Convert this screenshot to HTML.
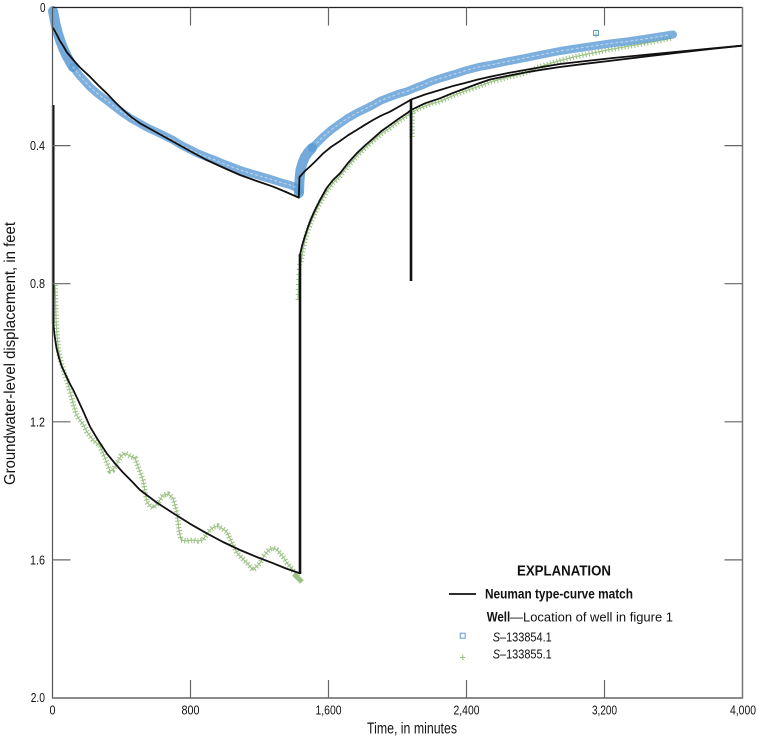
<!DOCTYPE html>
<html>
<head>
<meta charset="utf-8">
<style>
html,body{margin:0;padding:0;background:#fff;}
svg{display:block;}
text{font-family:"Liberation Sans Narrow","Liberation Sans",sans-serif;fill:#111;}
</style>
</head>
<body>
<svg width="757" height="746" viewBox="0 0 757 746" xmlns="http://www.w3.org/2000/svg">
<rect width="757" height="746" fill="#fff"/>
<!-- green data -->
<g fill="none" stroke="#9cc385" stroke-linejoin="round">
<g id="gd">
<polyline points="55,285 55.5,300 56,320 57,335 58.5,350 61,362 64,372 67.5,382 71,395 73,403 76,414 79,419 83,424 87,432 93,440 100,446 105,458 110,471 113,470 117,463 121,456 125,453 130,456 135,458 140,472 143,480 147,502 150,506 153,508 158,503 163,495 168,494 173,498 177,513 179,530 181,540 187,541 193,540 198,541 203,540 206,535 210,530 214,527 218,526 223,529 227,532 232,543 237,553 242,558 247,563 253,570 257,566 260,563 264,556 267,552 270,549 273,548 277,550 280,553 284,558 287,563 292,569 297,575 299,579"/>
<polyline points="301,262 303,250 305,240 308,230 311,222 315,213 320,203 327,191 333,183 340,176 348,166 356.7,156 365,148 373,141 381,134 390,128 399,121 408,115 411,113 418,109 425,106 432,103.5 440,101.5 452,96 465,91 477,87 490,82 507,77.5 525,73 542,66 560,60.5 576,56.5 593,53 610,49.5 627,46.5 644,43.5 660,40.5 672,38"/>
<polyline points="412,113 412,137"/>
</g>
<use href="#gd" stroke-width="1"/>
<use href="#gd" stroke-width="5.5" stroke-dasharray="1.1 2.2"/>
<polyline points="298,300 299,270 300,262" stroke-width="5" stroke-dasharray="1 4"/>
<polyline points="298,300 299,270 300,262" stroke-width="1"/>
<polyline points="294,574 302,582" stroke-width="5"/>
<path d="M593.4,35h5.2M596,32.4v5.2" stroke-width="1"/>
</g>
<!-- blue data -->
<g fill="none" stroke="#5b9bd5" stroke-linejoin="round" stroke-linecap="round">
<polyline points="53,11 54,16 55.5,24 57.5,32 60,40 63,48 66.7,56 70,62 73,67" stroke-width="10" opacity="0.85"/>
<polyline points="73,67 80,76 90,87 98,94 106.7,100.5 115,107 123,113 131,118.5 140,123.5 148,128 156.7,132 165,136 173,140 181,145 190,149.5 198,153.5 206.7,157 215,160 223,163.5 231,166.5 240,170 248,172.5 256.7,175 265,177.5 273.3,180 281,182.5 290,185 295,187 298,189 299,191" stroke-width="8" opacity="0.8"/>
<polyline points="299,193 299.5,180 300.5,170 302.5,163 305,157 308,152.5 312,148" stroke-width="10" opacity="0.85"/>
<polyline points="312,148 317,143 323,137 331,130 340,123.5 348,118 356.7,113 365,109 373,105 381,100.5 390,97 398,94 406.7,91.5 415,88 423,85 431,81.5 440,78.5 448,76 457,73.3 465,70.7 473,68.5 481,66.5 490,65 507,61.5 525,58 542,54.5 560,51 576,48.5 593,46 610,43.5 627,41.5 644,39 660,36.5 673,34.5" stroke-width="8" opacity="0.8"/>
<g stroke="#fff" stroke-width="1.2" stroke-dasharray="2 3" opacity="0.45">
<polyline points="73,67 80,76 90,87 98,94 106.7,100.5 115,107 123,113 131,118.5 140,123.5 148,128 156.7,132 165,136 173,140 181,145 190,149.5 198,153.5 206.7,157 215,160 223,163.5 231,166.5 240,170 248,172.5 256.7,175 265,177.5 273.3,180 281,182.5 290,185 295,187"/>
<polyline points="317,143 323,137 331,130 340,123.5 348,118 356.7,113 365,109 373,105 381,100.5 390,97 398,94 406.7,91.5 415,88 423,85 431,81.5 440,78.5 448,76 457,73.3 465,70.7 473,68.5 481,66.5 490,65 507,61.5 525,58 542,54.5 560,51 576,48.5 593,46 610,43.5 627,41.5 644,39 660,36.5 670,35"/>
</g>
<rect x="593.5" y="30.5" width="5" height="5" stroke-width="1"/>
</g>
<!-- model curves -->
<g fill="none" stroke="#111" stroke-width="1.8" stroke-linejoin="round" stroke-linecap="round">
<polyline points="53.3,28.3 57,35 60,41 63.3,46 66.7,52 73.3,60 80,67.5 90,76.7 98,85 106.7,93.3 115,102 123.3,110 131,116.8 140,123.3 156.7,132.5 173.3,141.7 190,151 206.7,160 223,167.5 240,175 256.7,181 273.3,186.7 286,192 298.8,197.7 299.5,177 305,171 310,166.5 316.7,160 323.3,153.3 331,147 340,141 348,135.3 356.7,130 365,124.8 373,120 381,115.7 390,111.7 400,106 411.7,99.3 425,94.5 440,90 452,86.3 465,83 477,79.8 490,76.7 507,73.2 525,70 542,67 560,64 586,61 613,58 646,54.8 680,51.5 711,48.5 742,45.7"/>
<polyline points="53.3,323 54.5,335 56.5,348 59,358 62,367 66.7,377 70,384 73.3,390 78,400 84,413 90,426.7 98,440 106.7,453.3 115,463.5 123,472.5 131,480.5 140,490 156.7,502.5 173.3,513.3 190,523.8 206.7,533.3 223,542 240,550 256.7,557 273.3,563.3 286,568.5 299,573"/>
<polyline points="300,255 302,246 305,236 308,227 311,219 315,210 320,200 326.7,188 333,180 340,173.3 348,163 356.7,153.3 365,145.5 373.3,138.3 381,131.4 390,125 399,118.5 408,112.5 411,110 425,103.3 440,98.3 452,93.3 465,88.5 477,84 490,79.5 507,76 525,72.5 542,69.7 560,67 586,63.7 613,60.5 646,56.5 680,52.5 711,49 742,45.7"/>
</g>
<g stroke="#111" stroke-width="2.6" fill="none">
<line x1="53.2" y1="105" x2="53.2" y2="324"/>
<line x1="300" y1="574" x2="300" y2="254"/>
<line x1="411" y1="99" x2="411" y2="281"/>
</g>
<!-- axes -->
<g fill="none">
<line x1="52.5" y1="7.5" x2="742.5" y2="7.5" stroke="#222" stroke-width="1.3"/>
<line x1="52.5" y1="7" x2="52.5" y2="698" stroke="#555" stroke-width="1.2"/>
<line x1="52" y1="698" x2="743" y2="698" stroke="#666" stroke-width="1.5"/>
<line x1="742.5" y1="7" x2="742.5" y2="698.5" stroke="#777" stroke-width="1.5"/>
<g stroke="#666" stroke-width="1.2">
<line x1="190.5" y1="7.5" x2="190.5" y2="25.5"/>
<line x1="328.5" y1="7.5" x2="328.5" y2="25.5"/>
<line x1="466.5" y1="7.5" x2="466.5" y2="25.5"/>
<line x1="604.5" y1="7.5" x2="604.5" y2="25.5"/>
<line x1="190.5" y1="698" x2="190.5" y2="680"/>
<line x1="328.5" y1="698" x2="328.5" y2="680"/>
<line x1="466.5" y1="698" x2="466.5" y2="680"/>
<line x1="604.5" y1="698" x2="604.5" y2="680"/>
<line x1="52.5" y1="145.6" x2="70.5" y2="145.6"/>
<line x1="52.5" y1="283.7" x2="70.5" y2="283.7"/>
<line x1="52.5" y1="421.8" x2="70.5" y2="421.8"/>
<line x1="52.5" y1="559.9" x2="70.5" y2="559.9"/>
<line x1="742.5" y1="145.6" x2="724.5" y2="145.6"/>
<line x1="742.5" y1="283.7" x2="724.5" y2="283.7"/>
<line x1="742.5" y1="421.8" x2="724.5" y2="421.8"/>
<line x1="742.5" y1="559.9" x2="724.5" y2="559.9"/>
</g>
</g>
<!-- tick labels -->
<g font-size="12.5">
<text x="40" y="11.8" textLength="5.5" lengthAdjust="spacingAndGlyphs">0</text>
<text x="30" y="150.1" textLength="15" lengthAdjust="spacingAndGlyphs">0.4</text>
<text x="30" y="288.2" textLength="15" lengthAdjust="spacingAndGlyphs">0.8</text>
<text x="30" y="426.3" textLength="15" lengthAdjust="spacingAndGlyphs">1.2</text>
<text x="30" y="564.4" textLength="15" lengthAdjust="spacingAndGlyphs">1.6</text>
<text x="30.7" y="701.9" textLength="14.3" lengthAdjust="spacingAndGlyphs">2.0</text>
<text x="49.5" y="714.6" textLength="6" lengthAdjust="spacingAndGlyphs">0</text>
<text x="181.5" y="714.6" textLength="18" lengthAdjust="spacingAndGlyphs">800</text>
<text x="315.5" y="714.6" textLength="26" lengthAdjust="spacingAndGlyphs">1,600</text>
<text x="453.5" y="714.6" textLength="26" lengthAdjust="spacingAndGlyphs">2,400</text>
<text x="592" y="714.6" textLength="25" lengthAdjust="spacingAndGlyphs">3,200</text>
<text x="730" y="714.6" textLength="26" lengthAdjust="spacingAndGlyphs">4,000</text>
</g>
<text x="367" y="733.5" font-size="15.5" textLength="90" lengthAdjust="spacingAndGlyphs">Time, in minutes</text>
<text transform="translate(15,485) rotate(-90)" x="0" y="0" font-size="15.5" textLength="263" lengthAdjust="spacingAndGlyphs">Groundwater-level displacement, in feet</text>
<!-- legend -->
<text x="517" y="575.7" font-size="14.5" font-weight="bold" textLength="94" lengthAdjust="spacingAndGlyphs">EXPLANATION</text>
<line x1="449" y1="594" x2="476" y2="594" stroke="#111" stroke-width="1.8"/>
<text x="485" y="598.3" font-size="14" font-weight="bold" textLength="148" lengthAdjust="spacingAndGlyphs">Neuman type-curve match</text>
<text x="486.7" y="621.7" font-size="13.5" font-weight="bold" textLength="23.5" lengthAdjust="spacingAndGlyphs">Well</text>
<text x="510" y="621.7" font-size="13" textLength="163" lengthAdjust="spacingAndGlyphs">—Location of well in figure 1</text>
<rect x="460.2" y="633.2" width="5" height="5" fill="none" stroke="#5b9bd5" stroke-width="1"/>
<path d="M460,657.5 h5.5 M462.75,654.7 v5.5" stroke="#9cc385" stroke-width="1.1"/>
<text x="492.7" y="641.7" font-size="13" textLength="59" lengthAdjust="spacingAndGlyphs"><tspan font-style="italic">S</tspan>–133854.1</text>
<text x="492.7" y="658.3" font-size="13" textLength="59" lengthAdjust="spacingAndGlyphs"><tspan font-style="italic">S</tspan>–133855.1</text>
</svg>
</body>
</html>
